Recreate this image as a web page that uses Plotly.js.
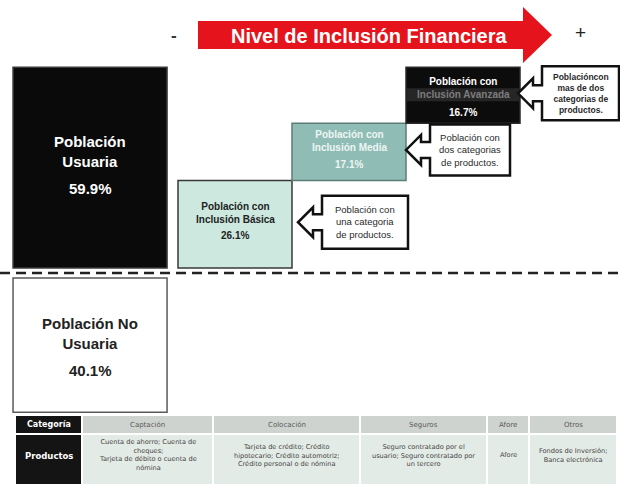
<!DOCTYPE html>
<html><head><meta charset="utf-8">
<script src="https://cdn.plot.ly/plotly-3.0.1.min.js"></script>
<style>html,body{margin:0;padding:0;background:#fff}#chart{width:620px;height:484px}</style>
</head><body><div id="chart"></div>
<script>
// ---------------- data ----------------
const titleText = "Nivel de Inclusión Financiera";
const groupNames = ["Población<br>Usuaria", "Población No<br>Usuaria"];
const groupValues = [59.9, 40.1];
const levelNames = ["Población con<br>Inclusión Básica", "Población con<br>Inclusión Media", "Población con<br>Inclusión Avanzada"];
const levelValues = [26.1, 17.1, 16.7];
const levelNotes = ["Población con<br>una categoria<br>de productos.", "Población con<br>dos categorias<br>de productos.", "Poblacióncon<br>mas de dos<br>categorias de<br>productos."];
const tableHeader = ["Categoría", "Captación", "Colocación", "Seguros", "Afore", "Otros"];
const tableRow = ["Productos",
  "Cuenta de ahorro; Cuenta de<br>cheques;<br>Tarjeta de débito o cuenta de<br>nómina",
  "Tarjeta de crédito; Crédito<br>hipotecario; Crédito automotriz;<br>Crédito personal o de nómina",
  "Seguro contratado por el<br>usuario; Seguro contratado por<br>un tercero",
  "Afore",
  "Fondos de Inversión;<br>Banca electrónica"];

// ---------------- geometry / style ----------------
const W = 620, H = 484;
const slotPx = 114, slot0Px = 121, zeroPx = 273, pxPerPct = 3.35, gap = 1.5;
const xRange = [-slot0Px / slotPx, (W - slot0Px) / slotPx];
const yRange = [-(H - zeroPx) / pxPerPct, zeroPx / pxPerPct];
const X = u => slot0Px + u * slotPx;
const Y = v => zeroPx - v * pxPerPct;
const fx = p => p / W, fy = p => 1 - p / H;
const FONT = "Liberation Sans, Arial, sans-serif";
const TFONT = "DejaVu Sans, Verdana, sans-serif";

// group bars (user up, non-user down)
const groupBase = [gap, -gap];
const groupY = [groupValues[0], -groupValues[1]];
// level bars stacked
const levelBase = [];
let acc = gap;
levelValues.forEach(v => { levelBase.push(acc); acc += v; });

const traces = [
  {type: 'bar', x: [0, 0], y: groupY, base: groupBase, width: 1.351, offset: -0.947,
   marker: {color: ['#0a0a0a', '#ffffff'], line: {color: ['#3a3a3a', '#5a5a5a'], width: 1.5}},
   hoverinfo: 'skip'},
  {type: 'bar', x: [1, 2, 3], y: levelValues, base: levelBase, width: 1,
   marker: {color: ['#cce8df', '#8fbdb6', '#0c0c0c'], line: {color: ['#383838', '#5d7c78', '#2a2a2a'], width: 1.5}},
   hoverinfo: 'skip'}
];

const annotations = [];
const shapes = [];
const pAnn = (x, y, text, font, extra) => Object.assign({xref: 'paper', yref: 'paper', x: fx(x), y: fy(y), text: text,
  showarrow: false, xanchor: 'center', yanchor: 'middle', align: 'center', font: font}, extra || {});
const pPath = pts => pts.map((p, k) => (k ? 'L' : 'M') + fx(p[0]) + ',' + fy(p[1])).join(' ') + ' Z';

// title arrow
shapes.push({type: 'path', xref: 'paper', yref: 'paper',
  path: pPath([[198, 21], [523, 21], [523, 7], [552, 35], [523, 63], [523, 49], [198, 49]]),
  fillcolor: '#e5131b', line: {width: 0}});
annotations.push(pAnn(369, 36, '<b>' + titleText + '</b>', {family: FONT, size: 20, color: '#ffffff'}));
annotations.push(pAnn(174, 36, '<b>-</b>', {family: FONT, size: 17, color: '#333'}));
annotations.push(pAnn(580, 33, '+', {family: FONT, size: 19, color: '#222'}));

// dashed zero line
shapes.push({type: 'line', xref: 'paper', yref: 'y', x0: 0, x1: 1, y0: 0, y1: 0, line: {color: '#222', width: 2.5, dash: '10px,6px'}});

// group labels
const groupStyle = [{size: 15, color: '#ffffff', nameShift: 16, pctShift: -21}, {size: 15, color: '#222', nameShift: 11.5, pctShift: -25}];
groupNames.forEach((n, i) => {
  const cy = groupBase[i] + groupY[i] / 2, cx = -0.947 + 1.351 / 2;
  const s = groupStyle[i];
  annotations.push({x: cx, y: cy, text: '<b>' + n + '</b>', showarrow: false, yshift: s.nameShift, xanchor: 'center', yanchor: 'middle', font: {family: FONT, size: s.size, color: s.color}});
  annotations.push({x: cx, y: cy, text: '<b>' + groupValues[i].toFixed(1) + '%</b>', showarrow: false, yshift: s.pctShift, xanchor: 'center', yanchor: 'middle', font: {family: FONT, size: s.size, color: s.color}});
});

// level labels + callouts
const levelStyle = [{color: '#222', nameShift: 11, pctShift: -11}, {color: '#eef5f3', nameShift: 11, pctShift: -13}, {color: '#ffffff', nameShift: 7, pctShift: -17}];
const calloutW = [86, 80, 77], calloutH = [53, 51, 54], tipGap = [6, 0, -2];
levelNames.forEach((n, i) => {
  const cyv = levelBase[i] + levelValues[i] / 2;
  const s = levelStyle[i];
  let txt = n;
  if (i === 2) {
    const parts = n.split('<br>');
    txt = parts[0] + "<br><span style='color:#7d7d7d'>" + parts[1] + "</span>";
    const cyp = Y(cyv);
    shapes.push({type: 'rect', xref: 'paper', yref: 'paper', x0: fx(X(i + 0.5) + 1), x1: fx(X(i + 1.5) - 1), y0: fy(cyp - 7), y1: fy(cyp + 6), fillcolor: '#262626', line: {width: 0}});
  }
  annotations.push({x: i + 1, y: cyv, text: '<b>' + txt + '</b>', showarrow: false, yshift: s.nameShift, xanchor: 'center', yanchor: 'middle', font: {family: FONT, size: 10, color: s.color}});
  annotations.push({x: i + 1, y: cyv, text: '<b>' + levelValues[i].toFixed(1) + '%</b>', showarrow: false, yshift: s.pctShift, xanchor: 'center', yanchor: 'middle', font: {family: FONT, size: 10, color: s.color}});

  // callout
  const cy = Y(cyv) - 2;
  const tip = X(i + 1.5) + tipGap[i];
  const hx = tip + 15, bx = tip + 24, w = calloutW[i], h = calloutH[i];
  const top = cy - h / 2, bot = cy + h / 2;
  shapes.push({type: 'path', xref: 'paper', yref: 'paper',
    path: pPath([[bx, top], [bx + w, top], [bx + w, bot], [bx, bot], [bx, cy + 8], [hx, cy + 8], [hx, cy + 15], [tip, cy], [hx, cy - 15], [hx, cy - 8], [bx, cy - 8]]),
    fillcolor: '#ffffff', line: {color: '#111', width: 2.5}});
  const noteTxt = i === 2 ? '<b>' + levelNotes[i] + '</b>' : levelNotes[i];
  annotations.push(pAnn(bx + w / 2, cy, noteTxt, {family: FONT, size: i === 2 ? 8.5 : 9.5, color: '#2a2a2a'}));
});

// product table (cells as shapes, text as annotations)
const colEdges = [16, 82, 213, 360, 487, 529, 617];
const headRow = [416, 433], bodyRow = [435, 484];
tableHeader.forEach((h, i) => {
  const x0 = colEdges[i] + (i ? 1 : 0), x1 = colEdges[i + 1] - 1;
  const dark = i === 0;
  shapes.push({type: 'rect', xref: 'paper', yref: 'paper', x0: fx(x0), x1: fx(x1), y0: fy(headRow[1]), y1: fy(headRow[0]),
    fillcolor: dark ? '#141414' : '#cfd3cf', line: {width: 0}, layer: 'below'});
  shapes.push({type: 'rect', xref: 'paper', yref: 'paper', x0: fx(x0), x1: fx(x1), y0: fy(bodyRow[1]), y1: fy(bodyRow[0]),
    fillcolor: dark ? '#141414' : '#e3ebe6', line: {width: 0}, layer: 'below'});
  const cx = (x0 + x1) / 2;
  annotations.push(pAnn(cx, 424.5, dark ? '<b>' + h + '</b>' : h,
    {family: TFONT, size: dark ? 8 : 7, color: dark ? '#ffffff' : '#5a5a5a'}));
  annotations.push(pAnn(cx, dark ? 456 : 455, dark ? '<b>' + tableRow[i] + '</b>' : tableRow[i],
    {family: TFONT, size: dark ? 8.5 : 6.6, color: dark ? '#ffffff' : '#444'}, {borderpad: 0}));
});

const layout = {
  width: W, height: H, margin: {l: 0, r: 0, t: 0, b: 0, pad: 0},
  paper_bgcolor: '#ffffff', plot_bgcolor: 'rgba(0,0,0,0)', showlegend: false,
  xaxis: {range: xRange, visible: false, fixedrange: true, showgrid: false, zeroline: false},
  yaxis: {range: yRange, visible: false, fixedrange: true, showgrid: false, zeroline: false},
  shapes: shapes, annotations: annotations, hovermode: false, barmode: 'overlay'
};
Plotly.newPlot('chart', traces, layout, {displayModeBar: false, staticPlot: true});
</script></body></html>
